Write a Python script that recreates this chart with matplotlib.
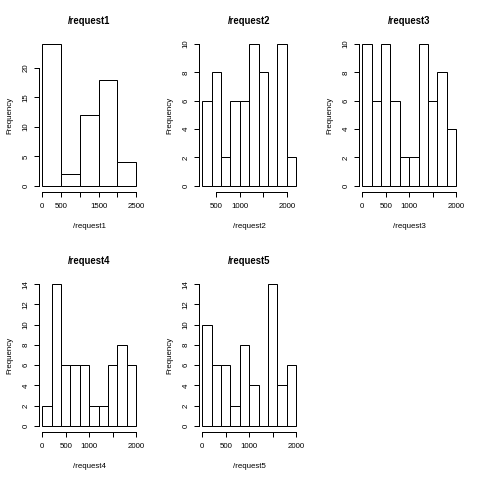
"""
Five request-time histograms in an R-style 2x3 grid (base graphics look).
"""
import matplotlib
matplotlib.use("Agg")
import matplotlib.pyplot as plt  # noqa: E402

# ── data ──────────────────────────────────────────────────────────────────────
names = ["/request1", "/request2", "/request3", "/request4", "/request5"]

bin_starts = [
    [0, 500, 1000, 1500, 2000],
    [200, 400, 600, 800, 1000, 1200, 1400, 1600, 1800, 2000],
    [0, 200, 400, 600, 800, 1000, 1200, 1400, 1600, 1800],
    [0, 200, 400, 600, 800, 1000, 1200, 1400, 1600, 1800],
    [0, 200, 400, 600, 800, 1000, 1200, 1400, 1600, 1800],
]
bin_widths = [500, 200, 200, 200, 200]

counts = [
    [24, 2, 12, 18, 4],
    [6, 8, 2, 6, 6, 10, 8, 0, 10, 2],
    [10, 6, 10, 6, 2, 2, 10, 6, 8, 4],
    [2, 14, 6, 6, 6, 2, 2, 6, 8, 6],
    [10, 6, 6, 2, 8, 4, 0, 14, 4, 6],
]

x_ticks = [
    [0, 500, 1000, 1500, 2000, 2500],
    [500, 1000, 1500, 2000],
    [0, 500, 1000, 1500, 2000],
    [0, 500, 1000, 1500, 2000],
    [0, 500, 1000, 1500, 2000],
]
# R drops labels that would overlap
x_labels = [
    ["0", "500", "", "1500", "", "2500"],
    ["500", "1000", "", "2000"],
    ["0", "500", "1000", "", "2000"],
    ["0", "500", "1000", "", "2000"],
    ["0", "500", "1000", "", "2000"],
]
y_ticks = [
    [0, 5, 10, 15, 20],
    [0, 2, 4, 6, 8, 10],
    [0, 2, 4, 6, 8, 10],
    [0, 2, 4, 6, 8, 10, 12, 14],
    [0, 2, 4, 6, 8, 10, 12, 14],
]

# ── layout (pixels, 72 dpi so 1pt == 1px) ─────────────────────────────────────
W = H = 480
CELL_W, CELL_H = 160, 240
MAR_L, MAR_R, MAR_T, MAR_B = 38.5, 20, 38.5, 48.5
FS = 7.92          # 12 * 0.66
FS_MAIN = 9.5      # cex.main 1.2
TICK_LEN = 4.75

plt.rcParams["font.family"] = ["Liberation Sans", "DejaVu Sans"]

fig = plt.figure(figsize=(W / 72, H / 72), dpi=72)
fig.patch.set_facecolor("white")

for i, name in enumerate(names):
    row, col = divmod(i, 3)
    left = col * CELL_W + MAR_L
    top = row * CELL_H + MAR_T
    w = CELL_W - MAR_L - MAR_R
    h = CELL_H - MAR_T - MAR_B
    ax = fig.add_axes([left / W, 1 - (top + h) / H, w / W, h / H])

    starts, bw, cnt = bin_starts[i], bin_widths[i], counts[i]
    ax.bar(starts, cnt, width=bw, align="edge", facecolor="white",
           edgecolor="black", linewidth=1)

    x0, x1 = starts[0], starts[-1] + bw
    xr = x1 - x0
    ymax = max(cnt)
    ax.set_xlim(x0 - 0.04 * xr, x1 + 0.04 * xr)
    ax.set_ylim(-0.04 * ymax, ymax * 1.04)

    for s in ("top", "right"):
        ax.spines[s].set_visible(False)
    ax.spines["left"].set_bounds(y_ticks[i][0], y_ticks[i][-1])
    ax.spines["bottom"].set_bounds(x_ticks[i][0], x_ticks[i][-1])
    for s in ("left", "bottom"):
        ax.spines[s].set_linewidth(1)

    ax.set_xticks(x_ticks[i])
    ax.set_xticklabels(x_labels[i], fontsize=FS)
    ax.set_yticks(y_ticks[i])
    ax.set_yticklabels([str(v) for v in y_ticks[i]], fontsize=FS,
                       rotation=90, va="center")
    ax.tick_params(length=TICK_LEN, width=1, color="black")
    ax.tick_params(axis="x", pad=7)
    ax.tick_params(axis="y", pad=4)

    ax.set_title(name, fontsize=FS_MAIN, fontweight="bold", pad=15)
    ax.set_xlabel(name, fontsize=FS, labelpad=13)
    ax.set_ylabel("Frequency", fontsize=FS, labelpad=9)

fig.savefig("out.png", dpi=72, facecolor="white")
